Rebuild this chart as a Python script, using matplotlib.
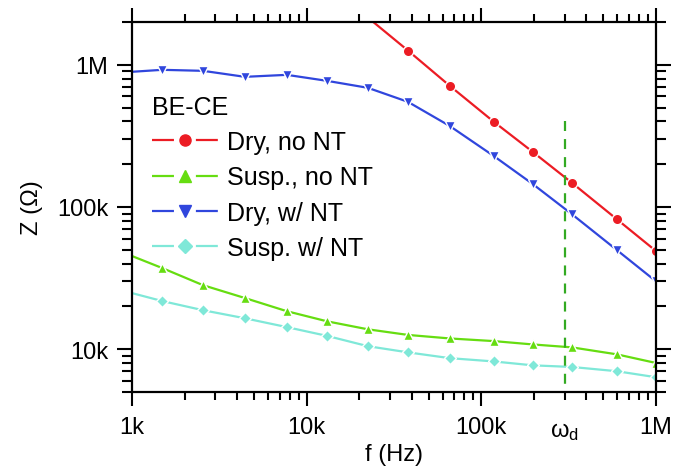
import numpy as np
import matplotlib
matplotlib.use('Agg')
import matplotlib.pyplot as plt
from matplotlib.lines import Line2D
from matplotlib.legend_handler import HandlerTuple
from matplotlib.ticker import FixedLocator, LogLocator, NullFormatter

plt.rcParams['font.family'] = ['Liberation Sans', 'DejaVu Sans']
plt.rcParams['mathtext.fontset'] = 'custom'
plt.rcParams['mathtext.rm'] = 'Liberation Sans'
plt.rcParams['mathtext.it'] = 'Liberation Sans'
plt.rcParams['lines.scale_dashes'] = False  # dash lengths in points

# frequency points (Hz)
freq = [1.0e3, 1.49e3, 2.55e3, 4.43e3, 7.7e3, 13.1e3, 22.4e3,
        38e3, 66e3, 118e3, 197e3, 330e3, 597e3, 1.0e6]

# impedance (Ohm) for each condition
z_dry_no_nt = [2.15e6, 1.26e6, 711e3, 397e3, 244e3, 148e3, 82e3, 49e3]  # from 22.4 kHz on
z_susp_no_nt = [45.2e3, 37.2e3, 28.2e3, 22.9e3, 18.5e3, 15.7e3, 13.8e3,
                12.6e3, 11.9e3, 11.4e3, 10.8e3, 10.3e3, 9.2e3, 8.0e3]
z_dry_nt = [893e3, 922e3, 907e3, 823e3, 850e3, 771e3, 689e3,
            549e3, 371e3, 228e3, 145e3, 89e3, 49.8e3, 30e3]
z_susp_nt = [24.8e3, 21.8e3, 18.8e3, 16.5e3, 14.3e3, 12.4e3, 10.5e3,
             9.5e3, 8.65e3, 8.2e3, 7.7e3, 7.5e3, 7.0e3, 6.35e3]

labels = ['Dry, no NT', 'Susp., no NT', 'Dry, w/ NT', 'Susp. w/ NT']
colors = ['#ec1c24', '#66dd11', '#3046dd', '#7fe8d8']
markers = ['o', '^', 'v', 'D']

x_ticks = [1e3, 1e4, 1e5, 1e6]
x_ticklabels = ['1k', '10k', '100k', '1M']
y_ticks = [1e4, 1e5, 1e6]
y_ticklabels = ['10k', '100k', '1M']

f_d = 3e5          # omega_d marker frequency
f_d_top = 4.0e5    # top of dashed line (Ohm)

FS = 17

fig = plt.figure(figsize=(6.77, 4.77), dpi=100)
ax = fig.add_axes([132 / 677, 1 - 393 / 477, 524 / 677, 370 / 477])

lw = 1.6
series = [(freq[6:], z_dry_no_nt), (freq, z_susp_no_nt), (freq, z_dry_nt), (freq, z_susp_nt)]
for (xs, ys), c, m in zip(series, colors, markers):
    ms = 6.5 if m == 'D' else 7.5
    # white marker edge gives the small gap in the line around each symbol
    ax.plot(xs, ys, color=c, lw=lw, marker=m, ms=ms, mfc=c, mec='white', mew=1.0,
            markevery=slice(1, None))

ax.plot([f_d, f_d], [f_d_top, 5e3], color='#33aa22', lw=1.6, ls=(0, (7.2, 5.8)))

ax.set_xscale('log')
ax.set_yscale('log')
ax.set_xlim(1e3, 1e6)
ax.set_ylim(5e3, 2e6)

ax.xaxis.set_major_locator(FixedLocator(x_ticks))
ax.set_xticklabels(x_ticklabels)
ax.yaxis.set_major_locator(FixedLocator(y_ticks))
ax.set_yticklabels(y_ticklabels)
for axis in (ax.xaxis, ax.yaxis):
    axis.set_minor_locator(LogLocator(base=10, subs=np.arange(2, 10)))
    axis.set_minor_formatter(NullFormatter())

ax.tick_params(which='both', direction='out', top=True, right=True, width=1.5,
               labelsize=FS, colors='black')
ax.xaxis.set_tick_params(which='major', length=10, pad=7)
ax.xaxis.set_tick_params(which='minor', length=6)
ax.yaxis.set_tick_params(which='major', length=11, pad=6)
ax.yaxis.set_tick_params(which='minor', length=7)
for sp in ax.spines.values():
    sp.set_linewidth(1.6)

ax.text(f_d, -0.075, r'$\omega_\mathrm{d}$', transform=ax.get_xaxis_transform(),
        ha='center', va='top', fontsize=FS)

ax.set_xlabel('f (Hz)', fontsize=FS, labelpad=4)
ax.set_ylabel('Z (\u03a9)', fontsize=FS, labelpad=10)

# legend handles: line broken around the symbol, as in the original
hl = 2.64
seg = 15.8  # points: dash, gap, dash across the 66 px handle
handles = []
for c, m in zip(colors, markers):
    ln = Line2D([], [], color=c, lw=lw, ls=(0, (seg, seg)))
    mk = Line2D([], [], color=c, ls='none', marker=m, ms=8 if m != 'D' else 7)
    handles.append((ln, mk))

leg = ax.legend(handles, labels, loc='upper left', bbox_to_anchor=(0.019, 0.83),
                frameon=False, title='BE-CE', title_fontsize=FS + 1, fontsize=FS + 1,
                alignment='left', handlelength=hl, handletextpad=0.35,
                labelspacing=0.45, borderaxespad=0, numpoints=1,
                handler_map={tuple: HandlerTuple(ndivide=1)})

fig.savefig('out.png', dpi=100)
